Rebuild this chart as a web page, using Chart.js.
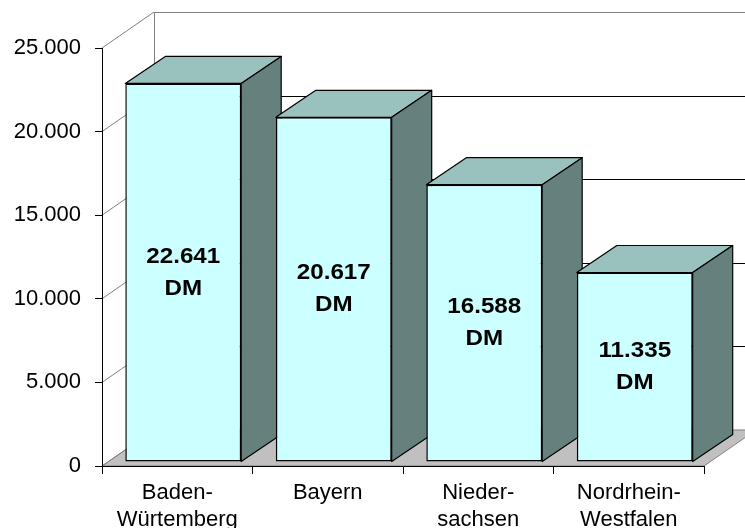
<!DOCTYPE html>
<html>
<head>
<meta charset="utf-8">
<script src="https://cdn.jsdelivr.net/npm/chart.js@4.4.0/dist/chart.umd.min.js"></script>
<style>
  html, body { margin: 0; padding: 0; background: #fff; }
  #wrap { width: 745px; height: 528px; }
</style>
</head>
<body>
<div id="wrap"><canvas id="chart" width="745" height="528"></canvas></div>
<script>
const labels = [["Baden-", "Würtemberg"], "Bayern", ["Nieder-", "sachsen"], ["Nordrhein-", "Westfalen"]];
const values = [22641, 20617, 16588, 11335];
const yTicks = [0, 5000, 10000, 15000, 20000, 25000];
const unit = "DM";

// german thousands separator
const fmt = (v) => String(v).replace(/\B(?=(\d{3})+(?!\d))/g, ".");

// 3d look: depth of the walls, shift of the bar fronts, depth of the bars
const wallDepth = { x: 52, y: 36 };
const barShift = { x: 6, y: 4 };
const barDepth = { x: 40, y: 27 };

const FONT = "'Liberation Sans', Arial, Helvetica, sans-serif";

const px = (v) => Math.round(v) + 0.5;

const box3d = {
  id: "box3d",
  beforeDraw(chart) {
    const { ctx, chartArea: a } = chart;
    const y = chart.scales.y;
    const dx = wallDepth.x, dy = wallDepth.y;
    const y0 = y.getPixelForValue(0);
    const yTop = y.getPixelForValue(yTicks[yTicks.length - 1]);
    ctx.save();
    ctx.lineWidth = 1;

    // floor
    ctx.fillStyle = "#c0c0c0";
    ctx.strokeStyle = "#808080";
    ctx.beginPath();
    ctx.moveTo(a.left, y0);
    ctx.lineTo(a.right, y0);
    ctx.lineTo(a.right + dx, y0 - dy);
    ctx.lineTo(a.left + dx, y0 - dy);
    ctx.closePath();
    ctx.fill();
    ctx.stroke();

    // side wall + back wall lines
    yTicks.forEach((t, i) => {
      const py = y.getPixelForValue(t);
      ctx.strokeStyle = "#808080";
      ctx.beginPath();
      ctx.moveTo(a.left, py);
      ctx.lineTo(a.left + dx, py - dy);
      ctx.stroke();
      if (t > 0) {
        ctx.strokeStyle = i === yTicks.length - 1 ? "#808080" : "#000";
        ctx.beginPath();
        ctx.moveTo(a.left + dx, px(py - dy));
        ctx.lineTo(a.right + dx, px(py - dy));
        ctx.stroke();
      }
    });
    ctx.strokeStyle = "#808080";
    ctx.beginPath();
    ctx.moveTo(px(a.left + dx), yTop - dy);
    ctx.lineTo(px(a.left + dx), y0 - dy);
    ctx.stroke();
    ctx.restore();
  },
  beforeDatasetsDraw(chart) {
    const ctx = chart.ctx;
    const bars = chart.getDatasetMeta(0).data;
    const bx = barDepth.x, by = barDepth.y;
    ctx.save();
    ctx.lineWidth = 1.2;
    ctx.strokeStyle = "#000";
    ctx.lineJoin = "round";
    bars.forEach((b) => {
      const L = b.x - b.width / 2 + barShift.x;
      const R = b.x + b.width / 2 + barShift.x;
      const T = b.y - barShift.y;
      const B = b.base - barShift.y;
      // top face
      ctx.fillStyle = "#99c2bf";
      ctx.beginPath();
      ctx.moveTo(L, T);
      ctx.lineTo(R, T);
      ctx.lineTo(R + bx, T - by);
      ctx.lineTo(L + bx, T - by);
      ctx.closePath();
      ctx.fill();
      ctx.stroke();
      // side face
      ctx.fillStyle = "#66807d";
      ctx.beginPath();
      ctx.moveTo(R, T);
      ctx.lineTo(R + bx, T - by);
      ctx.lineTo(R + bx, B - by);
      ctx.lineTo(R, B);
      ctx.closePath();
      ctx.fill();
      ctx.stroke();
    });
    // front faces are drawn by chart.js, shifted back a little
    ctx.translate(barShift.x, -barShift.y);
  },
  afterDatasetsDraw(chart) {
    const ctx = chart.ctx;
    ctx.restore();
    const bars = chart.getDatasetMeta(0).data;
    ctx.save();
    ctx.fillStyle = "#000";
    ctx.font = "bold 22px " + FONT;
    ctx.textAlign = "center";
    ctx.textBaseline = "middle";
    bars.forEach((b, i) => {
      const cx = b.x + barShift.x;
      const cy = (b.y + b.base) / 2 - barShift.y;
      [fmt(values[i]), unit].forEach((s, k) => {
        ctx.save();
        ctx.translate(cx, cy + (k === 0 ? -16 : 16));
        ctx.scale(1.1, 1);
        ctx.fillText(s, 0, 0);
        ctx.restore();
      });
    });
    ctx.restore();
  }
};

new Chart(document.getElementById("chart"), {
  type: "bar",
  data: {
    labels: labels,
    datasets: [{
      data: values,
      backgroundColor: "#ccffff",
      borderColor: "#000",
      borderWidth: 1.5,
      borderSkipped: false,
      categoryPercentage: 1,
      barPercentage: 0.77,
      clip: false
    }]
  },
  options: {
    responsive: false,
    animation: false,
    layout: { padding: { top: 48, right: 41, left: 0, bottom: 0 } },
    plugins: {
      legend: { display: false },
      tooltip: { enabled: false }
    },
    scales: {
      x: {
        grid: { offset: true, drawOnChartArea: false, tickLength: 8, color: "#000" },
        border: { color: "#000" },
        ticks: {
          color: "#000",
          font: { family: FONT, size: 22 },
          padding: 6,
          maxRotation: 0,
          autoSkip: false
        },
        afterFit: (s) => { s.height = 62; }
      },
      y: {
        min: 0,
        max: 25000,
        afterBuildTicks: (s) => { s.ticks = yTicks.map((v) => ({ value: v })); },
        grid: { drawOnChartArea: false, tickLength: 7, color: "#000" },
        border: { color: "#000" },
        ticks: {
          color: "#000",
          font: { family: FONT, size: 22 },
          padding: 14,
          callback: (v) => fmt(v)
        },
        afterFit: (s) => { s.width = 102; }
      }
    }
  },
  plugins: [box3d]
});
</script>
</body>
</html>
